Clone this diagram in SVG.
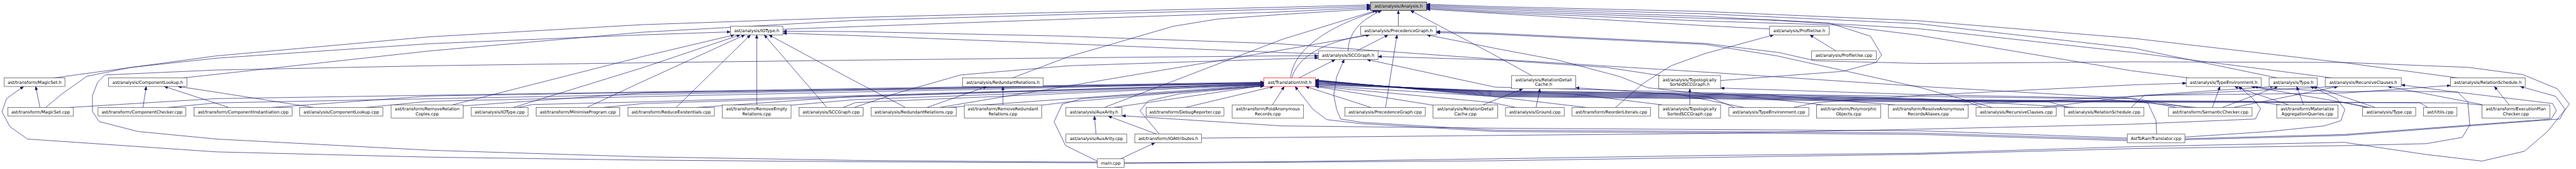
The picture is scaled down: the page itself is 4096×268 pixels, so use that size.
<svg xmlns="http://www.w3.org/2000/svg" width="4096" height="268" viewBox="0 0 4096 268">
<defs>
<marker id="ah" viewBox="0 0 11 9" refX="11" refY="4.5" markerWidth="11" markerHeight="9" markerUnits="userSpaceOnUse" orient="auto"><path d="M0,0 L11,4.5 L0,9 z" fill="#191970" stroke="#191970" stroke-width="0.8"/></marker>
</defs>
<style>
.e{fill:none;stroke:#191970;stroke-width:1.3;stroke-linejoin:round;marker-end:url(#ah)}
.n rect{fill:#ffffff;stroke:#404040;stroke-width:1.3}
.n text{font-family:"DejaVu Sans","Liberation Sans",sans-serif;font-size:13px;text-anchor:middle;fill:#000000}
#n_analysis rect{fill:#bfbfbf;stroke:#000000}
#n_tu rect{stroke:#ff0000}
</style>
<rect width="4096" height="268" fill="#ffffff"/>
<g transform="scale(0.52132)">
<g id="edges">
<path class="e" d="M164,237 L660,170 L1310,112 L1960,75 L2610,53 L3260,37 L3910,22 L4180,15"/>
<path class="e" d="M558,237 L660,226 L1310,155 L1960,98 L2610,62 L3260,44 L3910,28 L4180,19"/>
<path class="e" d="M2388,89 L2610,81 L3260,58 L3910,36 L4180,23"/>
<path class="e" d="M3088,237 L3260,172 L3406,130 L3578,80 L3713,58 L3910,44 L4180,27"/>
<path class="e" d="M3368,327 L3910,120 L4197,32"/>
<path class="e" d="M3936,237 C3945,150 4050,80 4205,32"/>
<path class="e" d="M4112,155 C4112,100 4150,60 4214,32"/>
<path class="e" d="M4265,80 L4265,32"/>
<path class="e" d="M4672,230 L4550,163 L4302,32"/>
<path class="e" d="M7497,237 L7160,192 L6510,117 L5850,63 L5200,35 L4550,20 L4351,13"/>
<path class="e" d="M6946,237 L6510,147 L5850,72 L5200,42 L4550,24 L4351,16"/>
<path class="e" d="M7113,237 L6510,160 L5850,87 L5200,50 L4550,28 L4351,19"/>
<path class="e" d="M5248,245 L5621,217 L5722,190 L5739,167 L5705,110 L5579,70 L5400,60 L5200,56 L4550,33 L4351,22"/>
<path class="e" d="M6675,237 L6500,215 L5850,107 L5600,76 L5200,64 L4550,37 L4351,25"/>
<path class="e" d="M5397,88 L5200,78 L4550,40 L4351,28"/>
<path class="e" d="M139,327 L190,285 L265,232 L400,205 L660,177 L1310,133 L1960,106 L2228,97"/>
<path class="e" d="M1380,319 L1960,172 L2240,106"/>
<path class="e" d="M1565,327 L1960,206 L2258,106"/>
<path class="e" d="M1790,327 L1960,248 L2272,106"/>
<path class="e" d="M2062,327 L2289,106"/>
<path class="e" d="M2308,319 L2308,106"/>
<path class="e" d="M2522,327 L2331,106"/>
<path class="e" d="M2762,327 L2600,243 L2345,106"/>
<path class="e" d="M4021,163 L3910,160 L3250,133 L2600,108 L2388,101"/>
<path class="e" d="M6680,327 L6510,300 L5860,263 L5210,220 L4560,180 L3900,133 L3250,110 L2600,96 L2388,95"/>
<path class="e" d="M4138,155 L4234,106"/>
<path class="e" d="M3940,237 C3960,170 4040,125 4176,106"/>
<path class="e" d="M2865,327 L3250,263 L3910,152 L4178,106"/>
<path class="e" d="M4226,327 L4261,106"/>
<path class="e" d="M6700,327 L6400,300 L5600,290 L5210,287 L5026,267 L4941,233 L4752,183 L4560,147 L4352,106"/>
<path class="e" d="M3429,495 L3910,492 L4560,483 L5210,473 L5860,466 L6510,446 L7150,433 L7400,470 L7570,490 L7700,460 L7770,400 L7837,317 L7800,270 L7695,227 L7530,205 L7150,190 L6510,188 L5860,193 L5537,185 L5427,160 L5200,132 L4550,101 L4381,96"/>
<path class="e" d="M6077,327 L5860,267 L5420,170 L5200,135 L4550,104 L4381,99"/>
<path class="e" d="M3347,493 L3260,493 L2610,488 L1960,477 L1310,457 L660,423 L421,400 L303,370 L282,340 L282,290 L298,250 L320,228 L660,213 L1310,200 L1960,191 L2610,183 L3260,176 L3910,170 L4021,170"/>
<path class="e" d="M2605,327 L2730,285 L2930,228 L3260,200 L3910,179 L4021,176"/>
<path class="e" d="M3962,237 L4073,181"/>
<path class="e" d="M6488,424 L5860,405 L5210,400 L4560,396 L4152,372 L4089,362 L4077,333 L4068,290 L4077,233 L4100,181"/>
<path class="e" d="M6330,327 L5860,300 L5250,283 L4560,265 L4169,181"/>
<path class="e" d="M5065,230 L4900,205 L4560,182 L4203,172"/>
<path class="e" d="M4927,327 L5013,253 L5097,200 L5200,163 L5410,106"/>
<path class="e" d="M5600,155 L5520,106"/>
<path class="e" d="M4523,319 L4645,270"/>
<path class="e" d="M4685,327 L4697,270"/>
<path class="e" d="M5290,327 L5210,294 L4806,267"/>
<path class="e" d="M5154,319 L5154,270"/>
<path class="e" d="M6578,408 L6576,367 L6551,313 L6500,300 L5860,288 L5248,268"/>
<path class="e" d="M210,327 L660,300 L3855,250"/>
<path class="e" d="M511,327 L660,313 L3855,251"/>
<path class="e" d="M827,327 L1310,292 L3855,252"/>
<path class="e" d="M1115,327 L1310,308 L3855,253"/>
<path class="e" d="M1414,322 L1960,283 L3855,254"/>
<path class="e" d="M1578,327 L1624,318 L1960,310 L3855,255"/>
<path class="e" d="M1839,327 L1960,315 L3855,256"/>
<path class="e" d="M2125,327 L2610,293 L3855,256"/>
<path class="e" d="M2413,320 L2610,303 L3855,257"/>
<path class="e" d="M2571,327 L2610,312 L3855,258"/>
<path class="e" d="M2890,327 L3855,258"/>
<path class="e" d="M3177,320 L3260,310 L3855,259"/>
<path class="e" d="M3397,327 L3855,260"/>
<path class="e" d="M3536,408 L3477,337 L3502,307 L3600,285 L3855,261"/>
<path class="e" d="M3347,490 L3250,443 L3215,370 L3240,317 L3300,300 L3855,262"/>
<path class="e" d="M3615,327 L3885,263"/>
<path class="e" d="M3881,319 L3917,263"/>
<path class="e" d="M6488,428 L5860,409 L5210,404 L4560,400 L4152,376 L4047,364 L4005,333 L3950,263"/>
<path class="e" d="M4182,327 L3982,263"/>
<path class="e" d="M4371,320 L4012,263"/>
<path class="e" d="M6488,420 L5860,398 L5210,394 L4560,390 L3910,383 L3422,352"/>
<path class="e" d="M4624,327 L4550,312 L4012,262"/>
<path class="e" d="M4840,327 L4550,293 L4012,260"/>
<path class="e" d="M5070,319 L4800,286 L4012,258"/>
<path class="e" d="M5320,327 L5100,283 L4560,276 L4012,256"/>
<path class="e" d="M5560,319 L5250,285 L4560,278 L4012,254"/>
<path class="e" d="M5780,319 L5400,290 L5250,287 L4560,280 L4012,252"/>
<path class="e" d="M6045,327 L6005,311 L5700,297 L5250,289 L4560,282 L4012,250"/>
<path class="e" d="M6310,327 L6250,310 L5700,299 L5250,291 L4560,284 L4012,248"/>
<path class="e" d="M6640,327 L6550,310 L5700,301 L5250,293 L4560,286 L4012,247"/>
<path class="e" d="M6955,319 L6870,308 L5700,303 L5250,295 L4560,288 L4012,246"/>
<path class="e" d="M7220,327 L7140,310 L5700,305 L5250,297 L4560,290 L4012,245"/>
<path class="e" d="M7405,327 L7380,312 L5700,307 L5250,299 L4560,292 L4012,244"/>
<path class="e" d="M7575,320 L7500,313 L5700,309 L5250,301 L4560,294 L4012,243"/>
<path class="e" d="M5469,327 L5540,312 L5860,290 L6510,258 L6668,253"/>
<path class="e" d="M6748,327 L6771,263"/>
<path class="e" d="M6980,319 L6815,263"/>
<path class="e" d="M3665,420 L3910,418 L4560,412 L5210,406 L5850,393 L6500,378 L6879,362 L6895,330 L6870,298 L6828,263"/>
<path class="e" d="M7230,327 L7160,314 L6866,263"/>
<path class="e" d="M3429,497 L4560,489 L5210,479 L5860,469 L6510,452 L7150,443 L7400,437 L7510,418 L7533,380 L7527,310 L7496,280 L7300,277 L7150,279 L6900,268 L6876,263"/>
<path class="e" d="M6778,327 L6948,263"/>
<path class="e" d="M7026,319 L7005,263"/>
<path class="e" d="M6664,417 L6921,400 L7089,383 L7140,367 L7152,333 L7127,300 L7047,263"/>
<path class="e" d="M7245,327 L7056,263"/>
<path class="e" d="M5990,319 L6500,293 L6935,263"/>
<path class="e" d="M6225,327 L6510,293 L7131,263"/>
<path class="e" d="M6812,327 L7131,263"/>
<path class="e" d="M7570,318 L7283,263"/>
<path class="e" d="M6664,422 L7150,409 L7781,362 L7797,337 L7786,315 L7466,277 L7324,258"/>
<path class="e" d="M6500,327 L6540,290 L7150,283 L7474,260"/>
<path class="e" d="M7653,319 L7608,263"/>
<path class="e" d="M6664,425 L7150,412 L7808,362 L7824,333 L7795,293 L7687,263"/>
<path class="e" d="M3343,408 L3338,353"/>
<path class="e" d="M3528,408 L3380,353"/>
<path class="e" d="M3418,483 L3523,434"/>
<path class="e" d="M122,327 L109,263"/>
<path class="e" d="M3347,495 L3260,495 L2610,492 L1960,487 L1310,478 L660,462 L231,433 L84,423 L30,385 L6,340 L20,300 L72,263"/>
<path class="e" d="M436,327 L446,263"/>
<path class="e" d="M698,327 L501,263"/>
<path class="e" d="M957,327 L650,279 L543,263"/>
<path class="e" d="M2827,327 L3010,263"/>
<path class="e" d="M3059,319 L3059,263"/>
</g>
<g id="n_analysis" class="n"><rect x="4180" y="6" width="171" height="26"/><text x="4265.5" y="23.5">ast/analysis/Analysis.h</text></g>
<g id="n_iotype_h" class="n"><rect x="2228" y="80" width="160" height="26"/><text x="2308" y="97.5">ast/analysis/IOType.h</text></g>
<g id="n_precg_h" class="n"><rect x="4150" y="80" width="231" height="26"/><text x="4265.5" y="97.5">ast/analysis/PrecedenceGraph.h</text></g>
<g id="n_profile_h" class="n"><rect x="5397" y="80" width="182" height="26"/><text x="5488" y="97.5">ast/analysis/ProfileUse.h</text></g>
<g id="n_scc_h" class="n"><rect x="4021" y="155" width="182" height="26"/><text x="4112" y="172.5">ast/analysis/SCCGraph.h</text></g>
<g id="n_profile_cpp" class="n"><rect x="5525" y="155" width="198" height="26"/><text x="5624" y="172.5">ast/analysis/ProfileUse.cpp</text></g>
<g id="n_magic_h" class="n"><rect x="13" y="237" width="185" height="26"/><text x="105.5" y="254.5">ast/transform/MagicSet.h</text></g>
<g id="n_complookup_h" class="n"><rect x="331" y="237" width="239" height="26"/><text x="450.5" y="254.5">ast/analysis/ComponentLookup.h</text></g>
<g id="n_redund_h" class="n"><rect x="2936" y="237" width="246" height="26"/><text x="3059" y="254.5">ast/analysis/RedundantRelations.h</text></g>
<g id="n_tu" class="n"><rect x="3855" y="237" width="157" height="26"/><text x="3933.5" y="254.5">ast/TranslationUnit.h</text></g>
<g id="n_rdc_h" class="n"><rect x="4610" y="230" width="196" height="40"/><text x="4708" y="246.5">ast/analysis/RelationDetail</text><text x="4708" y="261.5">Cache.h</text></g>
<g id="n_topo_h" class="n"><rect x="5059" y="230" width="189" height="40"/><text x="5153.5" y="246.5">ast/analysis/Topologically</text><text x="5153.5" y="261.5">SortedSCCGraph.h</text></g>
<g id="n_typeenv_h" class="n"><rect x="6668" y="237" width="229" height="26"/><text x="6782.5" y="254.5">ast/analysis/TypeEnvironment.h</text></g>
<g id="n_type_h" class="n"><rect x="6921" y="237" width="147" height="26"/><text x="6994.5" y="254.5">ast/analysis/Type.h</text></g>
<g id="n_recclauses_h" class="n"><rect x="7092" y="237" width="232" height="26"/><text x="7208" y="254.5">ast/analysis/RecursiveClauses.h</text></g>
<g id="n_relsched_h" class="n"><rect x="7474" y="237" width="228" height="26"/><text x="7588" y="254.5">ast/analysis/RelationSchedule.h</text></g>
<g id="n_magic_cpp" class="n"><rect x="24" y="327" width="200" height="26"/><text x="124" y="344.5">ast/transform/MagicSet.cpp</text></g>
<g id="n_compchecker" class="n"><rect x="299" y="327" width="268" height="26"/><text x="433" y="344.5">ast/transform/ComponentChecker.cpp</text></g>
<g id="n_compinst" class="n"><rect x="592" y="327" width="299" height="26"/><text x="741.5" y="344.5">ast/transform/ComponentInstantiation.cpp</text></g>
<g id="n_complookup_cpp" class="n"><rect x="914" y="327" width="254" height="26"/><text x="1041" y="344.5">ast/analysis/ComponentLookup.cpp</text></g>
<g id="n_remrelcopies" class="n"><rect x="1193" y="319" width="220" height="40"/><text x="1303" y="335.5">ast/transform/RemoveRelation</text><text x="1303" y="350.5">Copies.cpp</text></g>
<g id="n_iotype_cpp" class="n"><rect x="1437" y="327" width="174" height="26"/><text x="1524" y="344.5">ast/analysis/IOType.cpp</text></g>
<g id="n_minimise" class="n"><rect x="1635" y="327" width="255" height="26"/><text x="1762.5" y="344.5">ast/transform/MinimiseProgram.cpp</text></g>
<g id="n_reduceex" class="n"><rect x="1915" y="327" width="264" height="26"/><text x="2047" y="344.5">ast/transform/ReduceExistentials.cpp</text></g>
<g id="n_rememptyrel" class="n"><rect x="2203" y="319" width="210" height="40"/><text x="2308" y="335.5">ast/transform/RemoveEmpty</text><text x="2308" y="350.5">Relations.cpp</text></g>
<g id="n_scc_cpp" class="n"><rect x="2437" y="327" width="196" height="26"/><text x="2535" y="344.5">ast/analysis/SCCGraph.cpp</text></g>
<g id="n_redund_cpp" class="n"><rect x="2657" y="327" width="260" height="26"/><text x="2787" y="344.5">ast/analysis/RedundantRelations.cpp</text></g>
<g id="n_remredund" class="n"><rect x="2941" y="319" width="236" height="40"/><text x="3059" y="335.5">ast/transform/RemoveRedundant</text><text x="3059" y="350.5">Relations.cpp</text></g>
<g id="n_auxarity_h" class="n"><rect x="3251" y="327" width="171" height="26"/><text x="3336.5" y="344.5">ast/analysis/AuxArity.h</text></g>
<g id="n_debugrep" class="n"><rect x="3496" y="327" width="237" height="26"/><text x="3614.5" y="344.5">ast/transform/DebugReporter.cpp</text></g>
<g id="n_foldanon" class="n"><rect x="3758" y="319" width="218" height="40"/><text x="3867" y="335.5">ast/transform/FoldAnonymous</text><text x="3867" y="350.5">Records.cpp</text></g>
<g id="n_precg_cpp" class="n"><rect x="4102" y="327" width="245" height="26"/><text x="4224.5" y="344.5">ast/analysis/PrecedenceGraph.cpp</text></g>
<g id="n_rdc_cpp" class="n"><rect x="4371" y="319" width="197" height="40"/><text x="4469.5" y="335.5">ast/analysis/RelationDetail</text><text x="4469.5" y="350.5">Cache.cpp</text></g>
<g id="n_ground" class="n"><rect x="4592" y="327" width="179" height="26"/><text x="4681.5" y="344.5">ast/analysis/Ground.cpp</text></g>
<g id="n_reorder" class="n"><rect x="4795" y="327" width="239" height="26"/><text x="4914.5" y="344.5">ast/transform/ReorderLiterals.cpp</text></g>
<g id="n_topo_cpp" class="n"><rect x="5059" y="319" width="189" height="40"/><text x="5153.5" y="335.5">ast/analysis/Topologically</text><text x="5153.5" y="350.5">SortedSCCGraph.cpp</text></g>
<g id="n_typeenv_cpp" class="n"><rect x="5273" y="327" width="244" height="26"/><text x="5395" y="344.5">ast/analysis/TypeEnvironment.cpp</text></g>
<g id="n_polymorphic" class="n"><rect x="5541" y="319" width="195" height="40"/><text x="5638.5" y="335.5">ast/transform/Polymorphic</text><text x="5638.5" y="350.5">Objects.cpp</text></g>
<g id="n_resolveanon" class="n"><rect x="5760" y="319" width="243" height="40"/><text x="5881.5" y="335.5">ast/transform/ResolveAnonymous</text><text x="5881.5" y="350.5">RecordsAliases.cpp</text></g>
<g id="n_recclauses_cpp" class="n"><rect x="6027" y="327" width="245" height="26"/><text x="6149.5" y="344.5">ast/analysis/RecursiveClauses.cpp</text></g>
<g id="n_relsched_cpp" class="n"><rect x="6296" y="327" width="243" height="26"/><text x="6417.5" y="344.5">ast/analysis/RelationSchedule.cpp</text></g>
<g id="n_semcheck" class="n"><rect x="6614" y="327" width="255" height="26"/><text x="6741.5" y="344.5">ast/transform/SemanticChecker.cpp</text></g>
<g id="n_materialize" class="n"><rect x="6944" y="319" width="187" height="40"/><text x="7037.5" y="335.5">ast/transform/Materialize</text><text x="7037.5" y="350.5">AggregationQueries.cpp</text></g>
<g id="n_type_cpp" class="n"><rect x="7206" y="327" width="162" height="26"/><text x="7287" y="344.5">ast/analysis/Type.cpp</text></g>
<g id="n_utils" class="n"><rect x="7392" y="327" width="102" height="26"/><text x="7443" y="344.5">ast/Utils.cpp</text></g>
<g id="n_execplan" class="n"><rect x="7570" y="319" width="207" height="40"/><text x="7673.5" y="335.5">ast/transform/ExecutionPlan</text><text x="7673.5" y="350.5">Checker.cpp</text></g>
<g id="n_auxarity_cpp" class="n"><rect x="3251" y="408" width="186" height="26"/><text x="3344" y="425.5">ast/analysis/AuxArity.cpp</text></g>
<g id="n_ioattr" class="n"><rect x="3461" y="408" width="204" height="26"/><text x="3563" y="425.5">ast/transform/IOAttributes.h</text></g>
<g id="n_asttoram" class="n"><rect x="6488" y="408" width="176" height="26"/><text x="6576" y="425.5">AstToRamTranslator.cpp</text></g>
<g id="n_main" class="n"><rect x="3347" y="483" width="82" height="26"/><text x="3388" y="500.5">main.cpp</text></g>
</g>
</svg>
